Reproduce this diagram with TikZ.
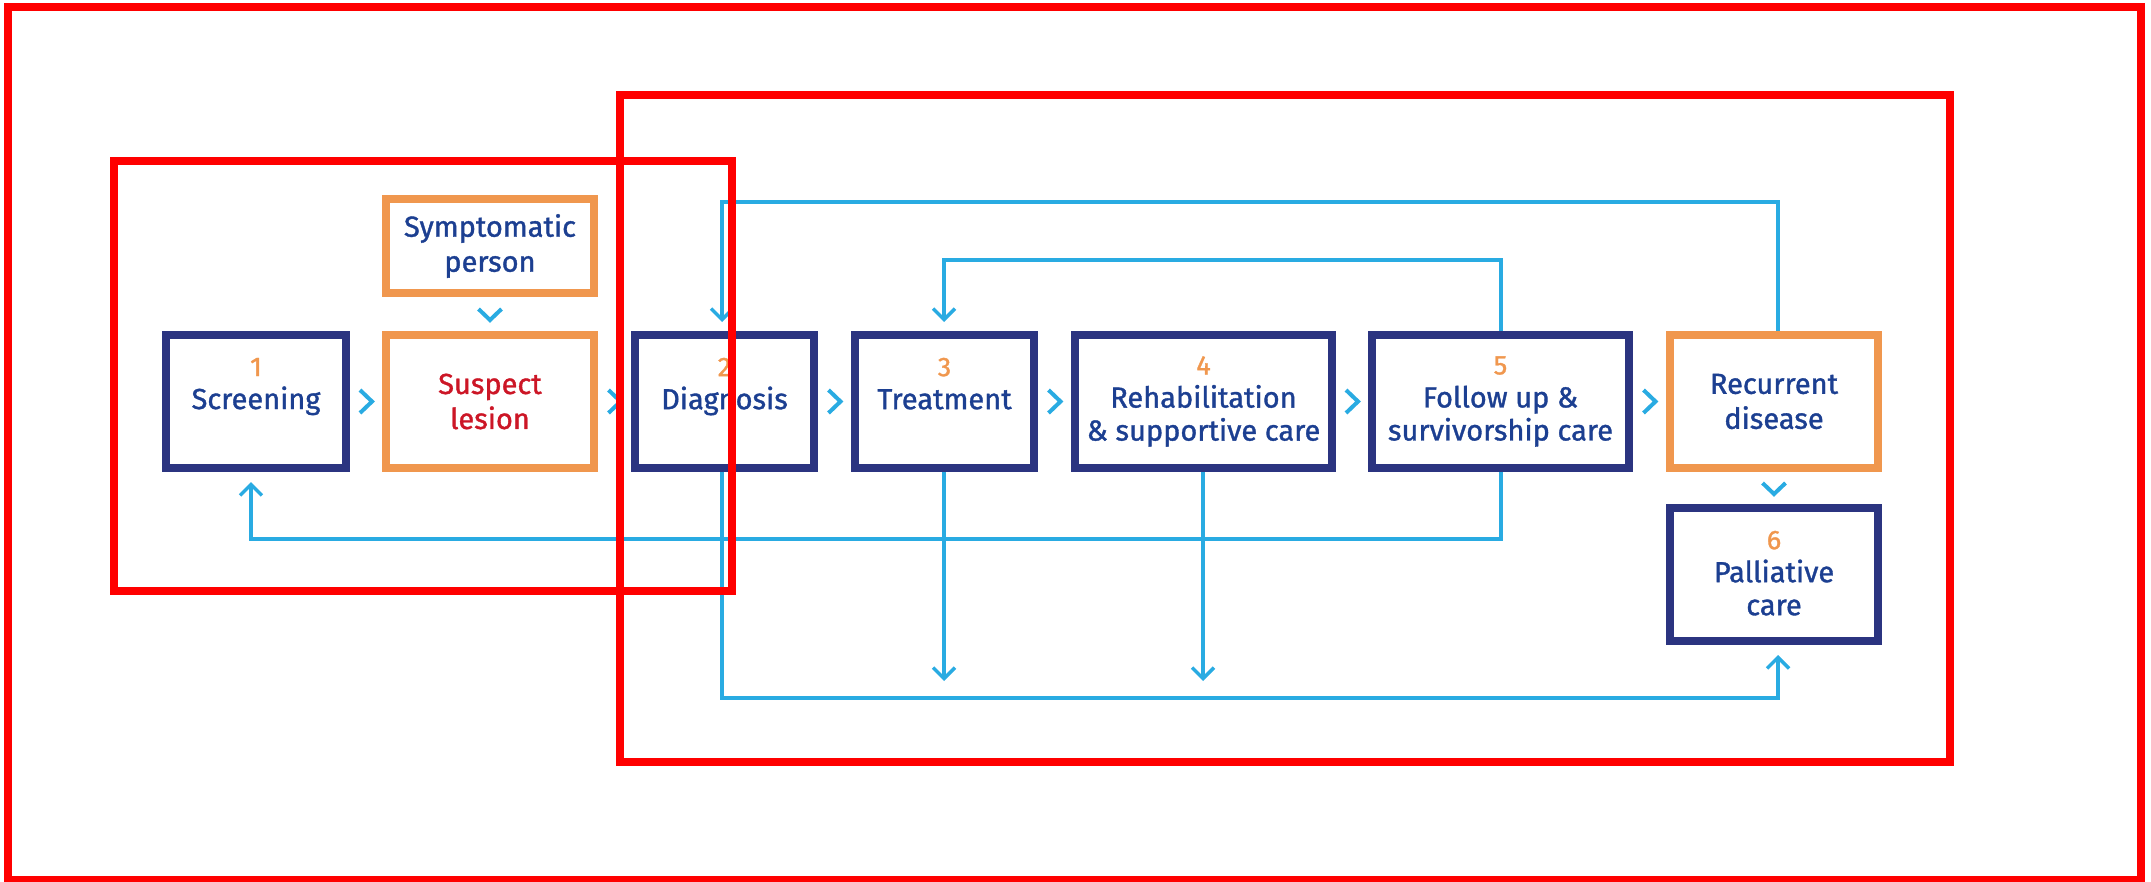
\documentclass[tikz,border=0pt]{standalone}
\usepackage{fontspec}
\setmainfont{Fira Sans}[FakeBold=1.2]
\usetikzlibrary{arrows.meta,calc}
\definecolor{navy}{RGB}{43,52,128}
\definecolor{txtblue}{RGB}{28,63,145}
\definecolor{orng}{RGB}{240,151,78}
\definecolor{cyanl}{RGB}{41,171,226}
\definecolor{redtxt}{RGB}{204,22,38}
\definecolor{pure}{RGB}{255,0,0}
\newcommand{\stepnum}[1]{{\fontsize{27}{33}\selectfont\color{orng}#1}}
\newcommand{\lastline}{\rule[-3pt]{0pt}{3pt}}
\begin{document}
\begin{tikzpicture}[x=1pt,y=-1pt,
  box/.style={draw=navy, line width=8pt, minimum height=133pt, inner sep=0pt,
    align=center, font=\fontsize{29}{33}\selectfont, text=txtblue},
  obox/.style={box, draw=orng, font=\fontsize{29}{35}\selectfont},
  conn/.style={draw=cyanl, line width=3.5pt, line join=miter},
  arr/.style={conn, -{Straight Barb[length=11pt,width=22pt]}},
  chev/.style={draw=cyanl, line width=4pt, line join=miter},
  frame/.style={draw=pure, line width=7.5pt}
]
\path[use as bounding box] (0,0) rectangle (2151,881);

% boxes
\node[obox, minimum width=208pt, minimum height=94pt] (sym) at (490,246) {Symptomatic\\person};
\node[box, minimum width=180pt] (scr) at (256,401.5) {\stepnum{1}\\Screening\\\lastline};
\node[obox, minimum width=208pt, text=redtxt] (sus) at (490,401.5) {Suspect\\lesion};
\node[box, minimum width=179pt] (dia) at (724.5,401.5) {\stepnum{2}\\Diagnosis\\\lastline};
\node[box, minimum width=179pt] (tre) at (944.5,401.5) {\stepnum{3}\\Treatment\\\lastline};
\node[box, minimum width=257pt] (reh) at (1203.5,401.5) {\stepnum{4}\\Rehabilitation\\\& supportive care\lastline};
\node[box, minimum width=257pt] (fol) at (1500.5,401.5) {\stepnum{5}\\Follow up \&\\survivorship care\lastline};
\node[obox, minimum width=208pt] (rec) at (1774,401.5) {Recurrent\\disease};
\node[box, minimum width=208pt] (pal) at (1774,574.5) {\stepnum{6}\\Palliative\\care\lastline};

% guide coordinates
\coordinate (xs) at (251,0);
\coordinate (xd) at (722,0);
\coordinate (xt) at (944,0);
\coordinate (xc) at (1778,0);
\coordinate (xf) at (1501,0);
\coordinate (ya) at (0,202);
\coordinate (yb) at (0,260);
\coordinate (yc) at (0,539);
\coordinate (yd) at (0,698);
\coordinate (e1) at (944,681);
\coordinate (e2) at (1203,681);

% chevrons between boxes
\foreach \a/\b in {scr/sus,sus/dia,dia/tre,tre/reh,reh/fol,fol/rec}
  \draw[chev] ($(\a.east)!0.5!(\b.west)$) ++(-6,-11.5) -- ++(12,11.5) -- ++(-12,11.5);
\foreach \a/\b in {sym/sus,rec/pal}
  \draw[chev] ($(\a.south)!0.5!(\b.north)$) ++(-11.5,-5) -- ++(11.5,11) -- ++(11.5,-11);

% connectors
\draw[arr, shorten >=9pt] (rec.north -| xc) |- (ya -| xd) -- (dia.north -| xd);
\draw[arr, shorten >=9pt] (fol.north -| xf) |- (yb -| xt) -- (tre.north -| xt);
\draw[arr, shorten >=10pt] (fol.south -| xf) |- (yc -| xs) -- (scr.south -| xs);
\draw[arr, shorten >=10pt] (dia.south -| xd) |- (yd -| xc) -- (pal.south -| xc);
\draw[arr] (tre.south -| e1) -- (e1);
\draw[arr] (reh.south -| e2) -- (e2);

% red frames
\draw[frame] (8,7) rectangle (2141,880);
\draw[frame] (114,161) rectangle (732,591);
\draw[frame] (620,95) rectangle (1950,762);
\end{tikzpicture}
\end{document}
